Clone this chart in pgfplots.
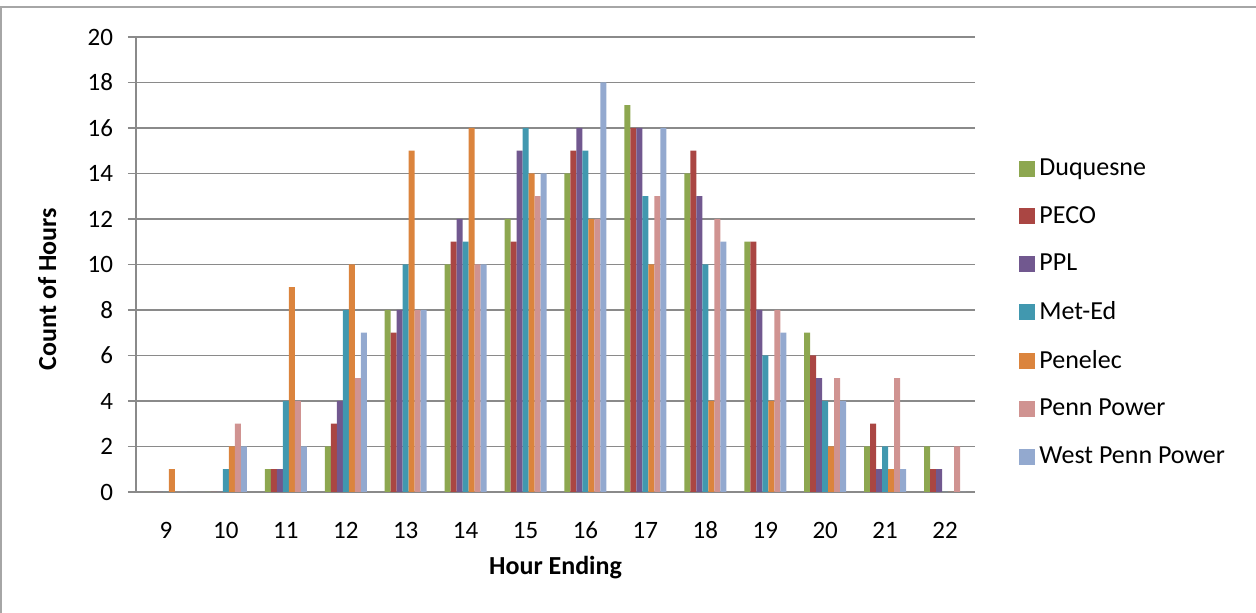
\documentclass[border=0pt]{standalone}
\usepackage{pgfplots}
\pgfplotsset{compat=1.18}
\usepackage{pgfplotstable}
\usepackage{fontspec}
\setmainfont{Carlito}
\definecolor{cDuq}{HTML}{8DA750}
\definecolor{cPECO}{HTML}{AA4643}
\definecolor{cPPL}{HTML}{71588F}
\definecolor{cMet}{HTML}{4198AF}
\definecolor{cPen}{HTML}{DB843D}
\definecolor{cPP}{HTML}{D09391}
\definecolor{cWPP}{HTML}{93A9CF}
\definecolor{gridgray}{HTML}{8A8A8A}
\pgfplotstableread{
x Duq PECO PPL Met Pen PP WPP
9 0 0 0 0 1 0 0
10 0 0 0 1 2 3 2
11 1 1 1 4 9 4 2
12 2 3 4 8 10 5 7
13 8 7 8 10 15 8 8
14 10 11 12 11 16 10 10
15 12 11 15 16 14 13 14
16 14 15 16 15 12 12 18
17 17 16 16 13 10 13 16
18 14 15 13 10 4 12 11
19 11 11 8 6 4 8 7
20 7 6 5 4 2 5 4
21 2 3 1 2 1 5 1
22 2 1 1 0 0 2 0
}\datatable
\begin{document}
\begin{tikzpicture}
\path[use as bounding box] (0,0) rectangle (628pt,306.5pt);
\draw[gray!70, line width=0.8pt] (0,303pt) -- (628pt,303pt);
\draw[gray!70, line width=0.8pt] (0.4pt,0) -- (0.4pt,303pt);
\begin{axis}[
  at={(68pt,60.5pt)}, anchor=south west,
  scale only axis, width=419.5pt, height=227.5pt,
  ybar=0pt, bar width=3pt,
  xmin=8.5, xmax=22.5, ymin=0, ymax=20,
  enlargelimits=false,
  xtick={9,...,22}, ytick={0,2,...,20},
  axis lines=left, axis line style={-, gridgray, line width=0.6pt},
  xtick style={draw=none},
  ytick style={gridgray, line width=0.6pt},
  tick align=outside, major tick length=4pt,
  ymajorgrids, grid style={gridgray, line width=0.6pt},
  /pgf/number format/assume math mode=true,
  tick label style={font=\fontsize{12.5}{15}\selectfont},
  yticklabel style={xshift=-4pt},
  xticklabel style={yshift=-7pt, text height=8.5pt, text depth=0pt},
  xlabel={Hour Ending}, ylabel={Count of Hours},
  every axis x label/.style={at={(axis description cs:0.5,-0.167)}, anchor=center,
    font=\fontsize{13}{15}\selectfont\bfseries},
  every axis y label/.style={at={(axis description cs:-0.106,0.446)}, rotate=90, anchor=center,
    font=\fontsize{13}{15}\selectfont\bfseries},
  legend style={draw=none, fill=none, at={(1,0.394)}, anchor=west, xshift=19pt,
    font=\fontsize{13}{15}\selectfont, row sep=9.9pt,
    /tikz/every even column/.style={column sep=0pt}},
  legend cell align=left,
  legend image code/.code={\fill[#1] (0pt,-4pt) rectangle (8pt,4pt);},
]
\addplot[fill=cDuq, draw=none] table[x=x, y=Duq] {\datatable};
\addplot[fill=cPECO, draw=none] table[x=x, y=PECO] {\datatable};
\addplot[fill=cPPL, draw=none] table[x=x, y=PPL] {\datatable};
\addplot[fill=cMet, draw=none] table[x=x, y=Met] {\datatable};
\addplot[fill=cPen, draw=none] table[x=x, y=Pen] {\datatable};
\addplot[fill=cPP, draw=none] table[x=x, y=PP] {\datatable};
\addplot[fill=cWPP, draw=none] table[x=x, y=WPP] {\datatable};
\legend{Duquesne, PECO, PPL, Met-Ed, Penelec, Penn Power, West Penn Power}
\end{axis}
\end{tikzpicture}
\end{document}
